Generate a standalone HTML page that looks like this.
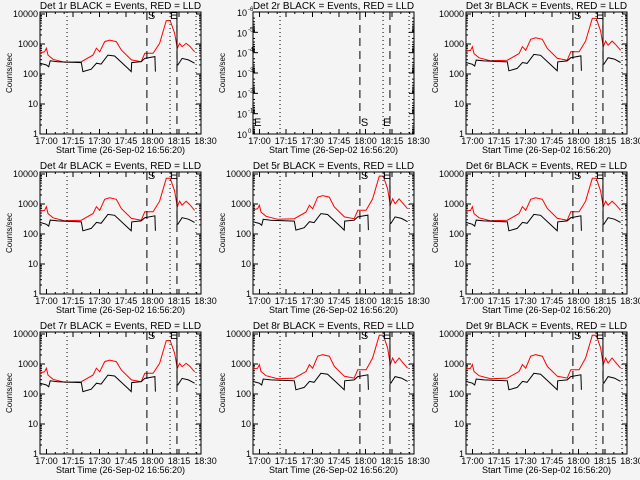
<!DOCTYPE html>
<html><head><meta charset="utf-8">
<style>
html,body{margin:0;padding:0;background:#f4f4f4;}
svg{display:block;font-family:"Liberation Sans",sans-serif;}
</style></head>
<body>
<svg id="c" width="640" height="480" viewBox="0 0 640 480">
<rect width="640" height="480" fill="#f4f4f4"/>
</svg>
<script>
// minutes since 16:56:20
const redT = [0,2.6,3.6,4.5,7.4,14,23.4,30,31.9,33.8,36.6,39.4,43.2,46,51.7,57.3,59.3,64,67.7,71.5,73.7,76.2,77.7,79,80.4,82.7,84.7,87.5];
const redV = [2.71,2.74,2.86,2.63,2.49,2.39,2.41,2.63,2.86,2.74,3.08,3.13,3.08,2.8,2.47,2.41,2.69,2.69,3.02,3.78,3.78,3.36,2.86,3.02,2.91,3.02,2.93,2.74];
// NaN = gap in data
const blkT = [0,3.6,4.9,5.8,10,23.4,24.3,29,32,34.6,38.4,42.2,49.7,51.6,51.9,57.3,59.3,65,65.3,65.4,74.5,74.6,77.5,77.6,78,80.4,84,87.5];
const blkV = [2.36,2.30,2.24,2.44,2.41,2.38,2.08,2.16,2.36,2.33,2.63,2.60,2.19,2.08,2.38,2.41,2.52,2.58,2.08,NaN,5,4.05,4.05,2.30,2.30,2.52,2.47,2.36];
const panelNames = ["1r","2r","3r","4r","5r","6r","7r","8r","9r"];
const panelOffset = [0,0,0.05,0.05,0.1,0.05,0,0.12,0.12];
const xTickLabels = ["17:00","17:15","17:30","17:45","18:00","18:15","18:30"];
const xTickMin = [3.67,18.67,33.67,48.67,63.67,78.67,93.67];
const yTickLabels = ["1","10","100","1000","10000"];
const dottedT = [15.3,73.6,88.3];
const dashedT = [60.5,77.5];

const svg = document.getElementById('c');
const NS = 'http://www.w3.org/2000/svg';
function mk(tag, attrs, parent){const e=document.createElementNS(NS,tag);for(const k in attrs)e.setAttribute(k,attrs[k]);(parent||svg).appendChild(e);return e;}
function pathD(ts, vs, xs, ys){let d='',pen=false;ts.forEach((t,k)=>{const v=vs[k];if(isNaN(v)){pen=false;return;}d+=(pen?'L':'M')+xs(t).toFixed(1)+','+ys(v).toFixed(1);pen=true;});return d;}

panelNames.forEach((nm, i) => {
  const ox = (i%3)*213, oy = Math.floor(i/3)*160;
  const L = ox+40, R = ox+201, T = oy+12, B = oy+134;
  const xs = t => L + t*1.767;
  const ys = v => oy+14 + (4 - v)*30;
  const g = mk('g', {});
  
  
  const title = mk('text', {x:(L+R)/2, y:oy+9, 'text-anchor':'middle', 'font-size':'10'}, g);
  title.textContent = 'Det ' + nm + ' BLACK = Events, RED = LLD';
  
  
  const clipId = 'clip'+i;
  const cp = mk('clipPath', {id:clipId}, g); mk('rect', {x:L, y:T, width:R-L, height:B-T}, cp);
  const box = mk('rect', {x:L, y:T, width:R-L, height:B-T, fill:'none', stroke:'#000', 'stroke-width':1}, g);
  
  
  xTickMin.forEach((m, k) => {
    const x = xs(m);
    if (x <= R) {
      mk('line', {x1:x, x2:x, y1:B, y2:B-5, stroke:'#000'}, g);
      mk('line', {x1:x, x2:x, y1:T, y2:T+5, stroke:'#000'}, g);
    }
    const tl = mk('text', {x:x, y:B+10, 'text-anchor':'middle', 'font-size':'9'}, g);
    tl.textContent = xTickLabels[k];
    
    
  });
  for (let m = 3.67; m < 91; m += 5) {
    const x = xs(m);
    mk('line', {x1:x, x2:x, y1:B, y2:B-2, stroke:'#000'}, g);
    mk('line', {x1:x, x2:x, y1:T, y2:T+2, stroke:'#000'}, g);
  }
  const xt = mk('text', {x:(L+R)/2, y:B+19, 'text-anchor':'middle', 'font-size':'9'}, g);
  xt.textContent = 'Start Time (26-Sep-02 16:56:20)';
  
  
  const yt = mk('text', {x:0, y:0, 'text-anchor':'middle', 'font-size':'8', transform:`translate(${ox+12},${(T+B)/2}) rotate(-90)`}, g);
  yt.textContent = 'Counts/sec';
  
  
  if (i === 1) {
    const labs = ['-6','-5','-4','-3','-2','-1','0'];
    labs.forEach((p, k) => {
      const y = T + k*(B-T)/6;
      mk('line', {x1:L, x2:L+5, y1:y, y2:y, stroke:'#000'}, g);
      mk('line', {x1:R, x2:R-5, y1:y, y2:y, stroke:'#000'}, g);
      if (k < 6) for (let j = 2; j < 10; j++) {
        const yy = y + Math.log10(j)*(B-T)/6;
        mk('line', {x1:L, x2:L+2, y1:yy, y2:yy, stroke:'#000'}, g);
        mk('line', {x1:R, x2:R-2, y1:yy, y2:yy, stroke:'#000'}, g);
      }
      const tl = mk('text', {x:L-6, y:y+4, 'text-anchor':'end', 'font-size':'9'}, g);
      tl.textContent = '10';
      
      
      const sp = mk('text', {x:L-5, y:y-1, 'font-size':'6'}, g); sp.textContent = p;
    });
    const e1 = mk('text', {x:L+1, y:B-8, 'font-size':'11'}, g); e1.textContent = 'E';
     
  } else {
    yTickLabels.forEach((lab, d) => {
      const y = ys(d);
      mk('line', {x1:L, x2:L+5, y1:y, y2:y, stroke:'#000'}, g);
      mk('line', {x1:R, x2:R-5, y1:y, y2:y, stroke:'#000'}, g);
      if (d < 4) for (let j = 2; j < 10; j++) {
        const yy = ys(d + Math.log10(j));
        mk('line', {x1:L, x2:L+2, y1:yy, y2:yy, stroke:'#000'}, g);
        mk('line', {x1:R, x2:R-2, y1:yy, y2:yy, stroke:'#000'}, g);
      }
      const tl = mk('text', {x:L-2, y:y+3, 'text-anchor':'end', 'font-size':'9'}, g);
      tl.textContent = lab;
      
      
    });
    const cg = mk('g', {'clip-path':`url(#${clipId})`}, g);
    const off = panelOffset[i];
    const rv = redV.map(v => v + off*(v>3?1.5:1));
    const bv = blkV.map(v => v + off*0.5);
    const rp = mk('path', {d: pathD(redT, rv, xs, ys), fill:'none', stroke:'#ff0000', 'stroke-width':1}, cg);
    
    
    const bp = mk('path', {d: pathD(blkT, bv, xs, ys), fill:'none', stroke:'#000', 'stroke-width':1}, cg);
    
    
  }
  dottedT.forEach(t => {
    const l = mk('line', {x1:xs(t), x2:xs(t), y1:T, y2:B, stroke:'#000', 'stroke-dasharray':'1,3'}, g);
    
    
  });
  dashedT.forEach(t => {
    const l = mk('line', {x1:xs(t), x2:xs(t), y1:T, y2:B, stroke:'#000', 'stroke-dasharray':'8,5'}, g);
    
    
  });
  const sy = (i===1) ? B-8 : T+7;
  const s = mk('text', {x:xs(dashedT[0])+1, y:sy, 'font-size':'11'}, g); s.textContent = 'S';
   
  const e = mk('text', {x:xs(dashedT[1])-7, y:sy, 'font-size':'11'}, g); e.textContent = 'E';
   
});
</script>
</body></html>
